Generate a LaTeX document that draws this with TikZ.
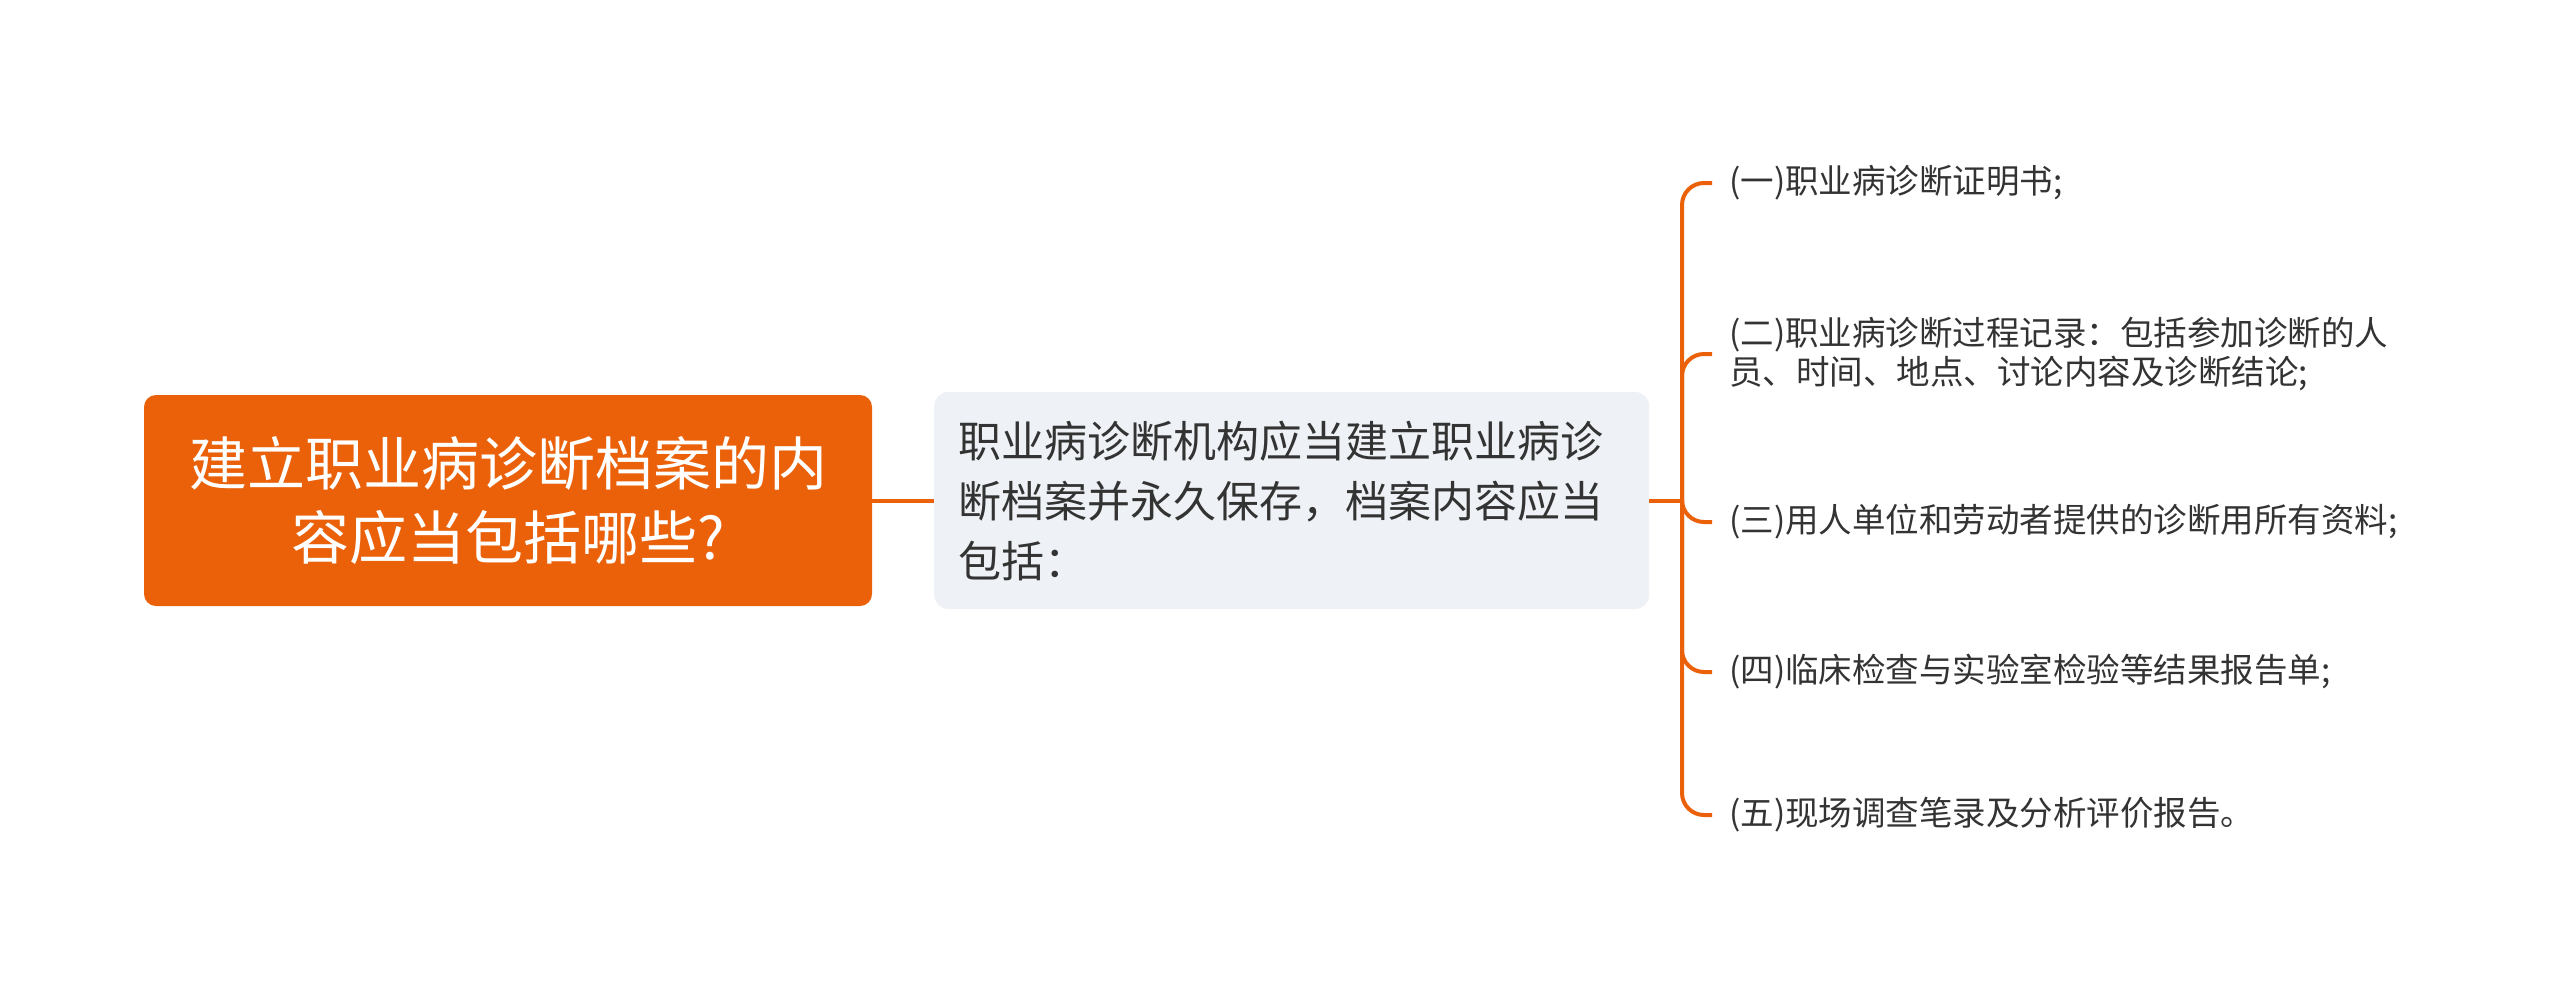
\documentclass[tikz,border=0pt]{standalone}
\usepackage{fontspec}
\setmainfont{Noto Sans CJK SC}
\usetikzlibrary{positioning}
\definecolor{treeorange}{RGB}{234,97,10}
\definecolor{midfill}{RGB}{238,241,245}
\definecolor{leaftext}{RGB}{51,51,51}

\begin{document}
\begin{tikzpicture}[
  x=1pt, y=-1pt,
  rootbox/.style={
    fill=treeorange, rounded corners=12pt, text=white,
    minimum width=728pt, minimum height=211pt, align=center,
    font=\fontsize{58}{74}\selectfont
  },
  midbox/.style={
    fill=midfill, rounded corners=14pt, text=leaftext, anchor=west,
    text width=667pt, inner xsep=24pt, minimum height=217pt, align=left,
    font=\fontsize{43}{60}\selectfont
  },
  leaf/.style={anchor=west, inner xsep=17pt, text=leaftext, align=left,
    font=\fontsize{33.5}{39}\selectfont},
  link/.style={draw=treeorange, line width=4pt},
  branch/.style={link, rounded corners=22pt},
]
  \useasboundingbox (0,0) rectangle (2560,1002);

  % --- Root and summary ---
  \node[rootbox] (root) at (508,500.5) {建立职业病诊断档案的内\\容应当包括哪些?};
  \node[midbox] (mid) at (934,500.5) {职业病诊断机构应当建立职业病诊\\断档案并永久保存，档案内容应当\\包括：};
  \coordinate (hub) at (1682,500.5);

  % --- Leaves ---
  \node[leaf] (l1) at (1712,183) {(一)职业病诊断证明书;};
  \node[leaf] (l2) at (1712,354) {(二)职业病诊断过程记录：包括参加诊断的人\\员、时间、地点、讨论内容及诊断结论;};
  \node[leaf] (l3) at (1712,522) {(三)用人单位和劳动者提供的诊断用所有资料;};
  \node[leaf] (l4) at (1712,672) {(四)临床检查与实验室检验等结果报告单;};
  \node[leaf] (l5) at (1712,815) {(五)现场调查笔录及分析评价报告。};

  % --- Connectors ---
  \draw[link] (root.east) -- (mid.west);
  \draw[link] (mid.east) -- (hub);
  \foreach \l in {l1,l2,l3,l4,l5}
    \draw[branch] (hub) |- (\l.west);

\end{tikzpicture}
\end{document}
